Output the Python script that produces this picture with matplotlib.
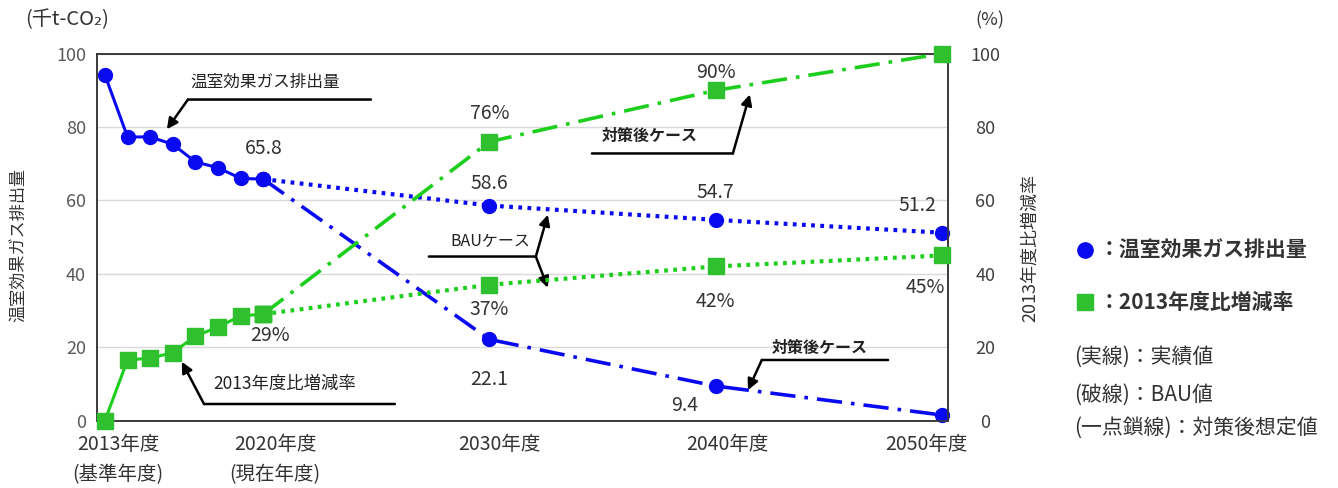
import matplotlib
matplotlib.use("Agg")
import matplotlib.pyplot as plt
from matplotlib.lines import Line2D

plt.rcParams['font.family'] = ['Noto Sans CJK JP', 'DejaVu Sans']

# actual results 2013-2020
years_act = [2013, 2014, 2015, 2016, 2017, 2018, 2019, 2020]
emis_act = [94.2, 77.3, 77.3, 75.3, 70.5, 68.9, 66.0, 65.8]
rate_act = [0, 16.5, 17.0, 18.5, 23.0, 25.5, 28.5, 29]

# projections from the current year
years_proj = [2020, 2030, 2040, 2050]
emis_bau = [65.8, 58.6, 54.7, 51.2]
emis_plan = [65.8, 22.1, 9.4, 1.5]
rate_bau = [29, 37, 42, 45]
rate_plan = [29, 76, 90, 100]

xtick_years = [2013, 2020, 2030, 2040, 2050]
xtick_labels = ['2013年度\n(基準年度)', '2020年度\n(現在年度)', '2030年度', '2040年度', '2050年度']
yticks = [0, 20, 40, 60, 80, 100]

BLUE = '#0a0af2'
GREEN = '#2fbf2f'
GREEN_LINE = '#1ccf1c'
DOT = (0, (0.9, 1.3))
DASHDOT = (0, (7, 2.5, 1, 2.5))
TXT = '#333333'

fig = plt.figure(figsize=(13.38, 4.88), dpi=100)
ax = fig.add_axes([0.0725, 0.1383, 0.636, 0.7517])
ax2 = ax.twinx()

ax.set_xlim(2012.65, 2050.27)
ax.set_ylim(0, 100)
ax2.set_ylim(0, 100)

ax.set_yticks(yticks)
ax2.set_yticks(yticks)
ax.grid(axis='y', color='#d9d9d9', linewidth=1)
ax.set_axisbelow(True)
for sp in list(ax.spines.values()) + list(ax2.spines.values()):
    sp.set_color('#3a3a3a')
    sp.set_linewidth(1.2)

ax.tick_params(axis='y', length=0, pad=8, labelsize=13, labelcolor='#5a5a5a')
ax2.tick_params(axis='y', length=0, pad=27, labelsize=13, labelcolor='#404040')
for lab in ax2.get_yticklabels():
    lab.set_horizontalalignment('center')

# year labels sit a little off the tick positions
ax.set_xticks(xtick_years)
ax.set_xticklabels([])
ax.tick_params(axis='x', length=0)
for yr, lab, dx in zip(xtick_years, xtick_labels, [13, 12, 10, 12, -15]):
    ax.annotate(lab, (yr, 0), xycoords=('data', 'axes fraction'), xytext=(dx, -13),
                textcoords='offset pixels', ha='center', va='top', fontsize=14,
                color=TXT, linespacing=1.6, annotation_clip=False)

# emission series (left axis)
mk_c = dict(marker='o', markersize=10, color=BLUE, clip_on=False)
ax.plot(years_act, emis_act, linewidth=2.2, zorder=5, **mk_c)
ax.plot(years_proj, emis_bau, linewidth=3, linestyle=DOT, zorder=4, **mk_c)
ax.plot(years_proj, emis_plan, linewidth=2.6, linestyle=DASHDOT, zorder=4, **mk_c)

# reduction-rate series (right axis)
mk_s = dict(marker='s', markersize=11, markerfacecolor=GREEN, markeredgecolor=GREEN, clip_on=False)
ax2.plot(years_act, rate_act, linewidth=2.2, color=GREEN_LINE, zorder=5, **mk_s)
ax2.plot(years_proj, rate_bau, linewidth=3, linestyle=DOT, color=GREEN_LINE, zorder=4, **mk_s)
ax2.plot(years_proj, rate_plan, linewidth=2.6, linestyle=DASHDOT, color=GREEN_LINE, zorder=4, **mk_s)

# value labels, offsets in pixels
lab_kw = dict(textcoords='offset pixels', ha='center', va='center', fontsize=14, color=TXT)
ax.annotate(f'{emis_act[-1]}', (years_act[-1], emis_act[-1]), xytext=(0, 31), **lab_kw)
for yr, v, off in zip(years_proj[1:], emis_bau[1:], [(0, 22), (0, 27), (-24, 27)]):
    ax.annotate(f'{v}', (yr, v), xytext=off, **lab_kw)
for yr, v, off in zip(years_proj[1:], emis_plan[1:], [(0, -40), (-31, -19)]):
    ax.annotate(f'{v}', (yr, v), xytext=off, **lab_kw)
ax2.annotate(f'{rate_act[-1]}%', (years_act[-1], rate_act[-1]), xytext=(7, -21), **lab_kw)
for yr, v, off in zip(years_proj[1:], rate_bau[1:], [(0, -25), (0, -35), (-17, -32)]):
    ax2.annotate(f'{v}%', (yr, v), xytext=off, **lab_kw)
for yr, v, off in zip(years_proj[1:3], rate_plan[1:3], [(0, 28), (0, 18)]):
    ax2.annotate(f'{v}%', (yr, v), xytext=off, **lab_kw)


def callout(text, corner, end, tips, text_at, size, bold=False):
    ax.annotate('', xy=corner, xytext=end,
                arrowprops=dict(arrowstyle='-', color='black', lw=1.8, shrinkA=0, shrinkB=0))
    for tip in tips:
        ax.annotate('', xy=tip, xytext=corner,
                    arrowprops=dict(arrowstyle='-|>', color='black', lw=1.8,
                                    mutation_scale=16, shrinkA=0, shrinkB=0))
    ax.text(*text_at, text, ha='center', va='center', fontsize=size, color='#222222',
            fontweight='bold' if bold else 'normal')


callout('温室効果ガス排出量', (2016.67, 87.5), (2024.76, 87.5), [(2015.74, 79.4)], (2020.07, 92.2), 12)
callout('2013年度比増減率', (2017.38, 4.5), (2025.82, 4.5), [(2016.40, 16.0)], (2020.96, 10.0), 12.5)
callout('対策後ケース', (2040.76, 72.8), (2034.53, 72.8), [(2041.51, 88.9)], (2037.09, 77.5), 11.5, bold=True)
callout('BAUケース', (2032.05, 44.7), (2027.32, 44.7), [(2032.58, 56.1), (2032.58, 36.2)], (2030.02, 48.8), 11.5)
callout('対策後ケース', (2042.04, 16.5), (2047.62, 16.5), [(2041.43, 8.3)], (2044.6, 19.8), 11.5, bold=True)

# axis titles
fig.text(0.050, 0.959, '(千t-CO₂)', ha='center', va='center', fontsize=14.5, color=TXT)
fig.text(0.740, 0.959, '(%)', ha='center', va='center', fontsize=13, color=TXT)
fig.text(0.014, 0.498, '温室効果ガス排出量', rotation=90, ha='center', va='center', fontsize=12.3, color=TXT)
fig.text(0.770, 0.492, '2013年度比増減率', rotation=90, ha='center', va='center', fontsize=13, color=TXT)

# key on the right
fig.add_artist(Line2D([0.811], [0.488], marker='o', markersize=11, color=BLUE, transform=fig.transFigure))
fig.add_artist(Line2D([0.811], [0.381], marker='s', markersize=12, color=GREEN, transform=fig.transFigure))
fig.text(0.821, 0.488, '：温室効果ガス排出量', ha='left', va='center', fontsize=15, fontweight='bold', color=TXT)
fig.text(0.821, 0.381, '：2013年度比増減率', ha='left', va='center', fontsize=15, fontweight='bold', color=TXT)
for y, t in zip([0.268, 0.191, 0.123], ['(実線)：実績値', '(破線)：BAU値', '(一点鎖線)：対策後想定値']):
    fig.text(0.803, y, t, ha='left', va='center', fontsize=15, color=TXT)

fig.savefig('out.png', dpi=100)
